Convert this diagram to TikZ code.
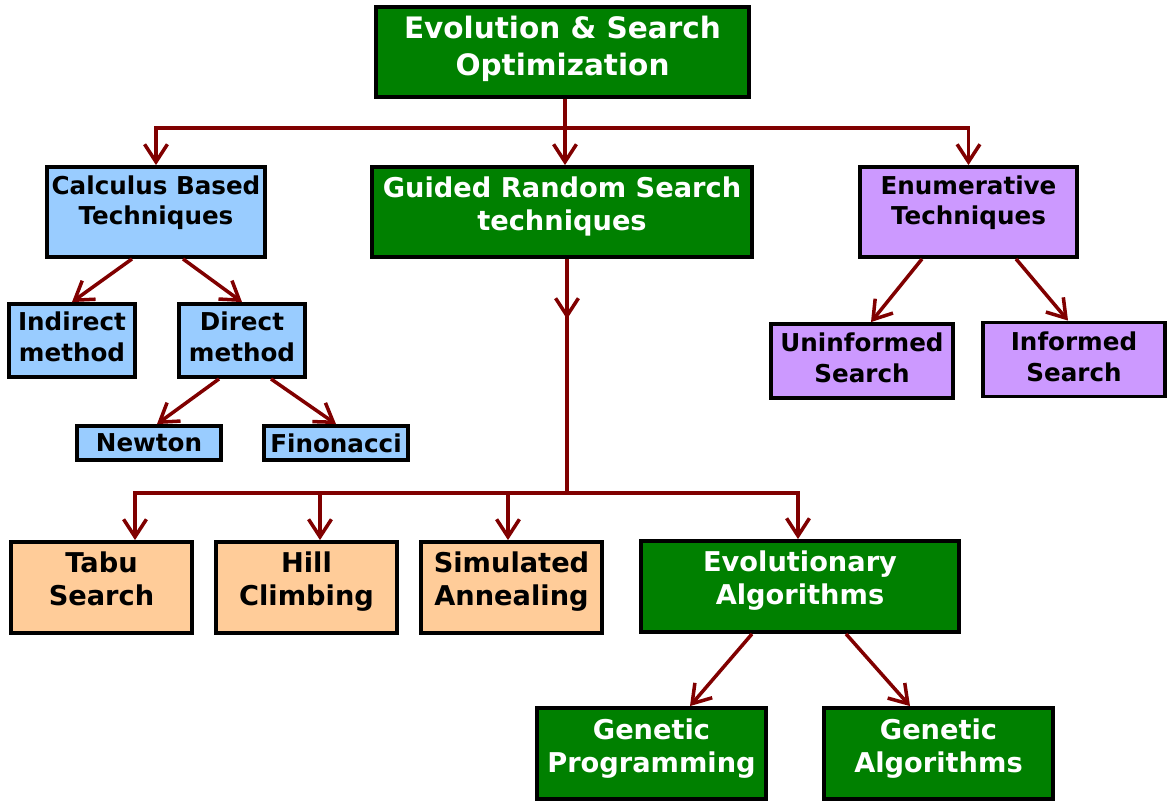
\documentclass[tikz,border=0pt]{standalone}
\usepackage{fontspec}
\setmainfont{DejaVu Sans}
\usetikzlibrary{arrows.meta}

\definecolor{evogreen}{RGB}{0,128,0}
\definecolor{calcblue}{RGB}{153,204,255}
\definecolor{enumpurple}{RGB}{204,153,255}
\definecolor{randpeach}{RGB}{255,204,153}
\definecolor{linkred}{RGB}{128,0,0}

% pushes the text of a box upwards by deepening its last line
\newcommand{\lift}[1]{\rule[-#1]{0pt}{#1}}

\tikzset{
	box/.style={draw=black, line width=2.2pt, align=center, inner sep=0pt},
	greenbox/.style={box, fill=evogreen, text=white},
	bluebox/.style={box, fill=calcblue, font=\fontsize{14}{17.5}\selectfont\bfseries},
	purplebox/.style={box, fill=enumpurple, font=\fontsize{14}{17.5}\selectfont\bfseries},
	peachbox/.style={box, fill=randpeach, font=\fontsize{15.5}{18.8}\selectfont\bfseries},
	link/.style={draw=linkred, line width=2pt},
	>={Straight Barb[length=10pt, width=13pt]}
}

\begin{document}
\begin{tikzpicture}
	\useasboundingbox (0.00,0.00) rectangle (23.36,-16.02);

	% top level
	\node[greenbox, minimum width=7.46cm, minimum height=1.80cm, font=\fontsize{16.8}{20.9}\selectfont\bfseries] (root) at (11.25,-1.04) {Evolution \& Search\\Optimization\lift{7pt}};

	% second level
	\node[bluebox, minimum width=4.36cm, minimum height=1.80cm] (calc) at (3.12,-4.24) {Calculus Based\\Techniques\lift{13.6pt}};
	\node[greenbox, minimum width=7.60cm, minimum height=1.80cm, font=\fontsize{15.5}{18.8}\selectfont\bfseries] (guided) at (11.24,-4.24) {Guided Random Search\\techniques\lift{9.1pt}};
	\node[purplebox, minimum width=4.34cm, minimum height=1.80cm] (enum) at (19.37,-4.24) {Enumerative\\Techniques\lift{13.6pt}};

	% calculus based
	\node[bluebox, minimum width=2.52cm, minimum height=1.46cm] (indirect) at (1.44,-6.81) {Indirect\\method\lift{4.6pt}};
	\node[bluebox, minimum width=2.52cm, minimum height=1.46cm] (direct) at (4.84,-6.81) {Direct\\method\lift{4pt}};
	\node[bluebox, minimum width=2.88cm, minimum height=0.68cm] (newton) at (2.98,-8.86) {Newton};
	\node[bluebox, minimum width=2.88cm, minimum height=0.68cm] (finonacci) at (6.72,-8.86) {Finonacci};

	% enumerative
	\node[purplebox, minimum width=3.64cm, minimum height=1.48cm] (uninformed) at (17.24,-7.22) {Uninformed\\Search\lift{3.4pt}};
	\node[purplebox, minimum width=3.64cm, minimum height=1.48cm] (informed) at (21.48,-7.19) {Informed\\Search\lift{3.4pt}};

	% guided random search
	\node[peachbox, minimum width=3.62cm, minimum height=1.82cm] (tabu) at (2.03,-11.75) {Tabu\\Search\lift{9.7pt}};
	\node[peachbox, minimum width=3.62cm, minimum height=1.82cm] (hill) at (6.13,-11.75) {Hill\\Climbing\lift{9.7pt}};
	\node[peachbox, minimum width=3.62cm, minimum height=1.82cm] (annealing) at (10.23,-11.75) {Simulated\\Annealing\lift{9.7pt}};
	\node[greenbox, minimum width=6.36cm, minimum height=1.82cm, font=\fontsize{15.5}{18.8}\selectfont\bfseries] (evol) at (16.00,-11.73) {Evolutionary\\Algorithms\lift{9.7pt}};

	% evolutionary
	\node[greenbox, minimum width=4.58cm, minimum height=1.82cm, font=\fontsize{15.5}{18.8}\selectfont\bfseries] (gp) at (13.03,-15.07) {Genetic\\Programming\lift{9.1pt}};
	\node[greenbox, minimum width=4.58cm, minimum height=1.82cm, font=\fontsize{15.5}{18.8}\selectfont\bfseries] (ga) at (18.77,-15.07) {Genetic\\Algorithms\lift{9.1pt}};

	% connectors
	\coordinate (topsplit) at (11.30,-2.56);
	\coordinate (midtip) at (11.34,-6.38);
	\coordinate (midsplit) at (11.34,-9.86);

	\draw[link] (root.south -| topsplit) -- (topsplit);
	\draw[link, ->] (topsplit) -- (guided.north -| topsplit);
	\draw[link, ->] (topsplit) -| (calc.north);
	\draw[link, ->] (topsplit) -| (enum.north);

	\draw[link, ->] ([xshift=-0.48cm]calc.south) -- (indirect.north);
	\draw[link, ->] ([xshift=0.54cm]calc.south) -- (direct.north);
	\draw[link, ->] ([xshift=-0.46cm]direct.south) -- ([xshift=0.16cm]newton.north);
	\draw[link, ->] ([xshift=0.58cm]direct.south) -- (finonacci.north);

	\draw[link, ->] ([xshift=-0.93cm]enum.south) -- ([xshift=0.18cm]uninformed.north);
	\draw[link, ->] ([xshift=0.95cm]enum.south) -- ([xshift=-0.12cm]informed.north);

	\draw[link] (guided.south -| midsplit) -- (midsplit);
	\draw[link, ->] (guided.south -| midtip) -- (midtip);
	\draw[link, ->] (midsplit) -| ([xshift=0.67cm]tabu.north);
	\draw[link, ->] (midsplit) -| ([xshift=0.27cm]hill.north);
	\draw[link, ->] (midsplit) -| ([xshift=-0.07cm]annealing.north);
	\draw[link, ->] (midsplit) -| ([xshift=-0.04cm]evol.north);

	\draw[link, ->] ([xshift=-0.96cm]evol.south) -- ([xshift=0.77cm]gp.north);
	\draw[link, ->] ([xshift=0.92cm]evol.south) -- ([xshift=-0.57cm]ga.north);
\end{tikzpicture}
\end{document}
